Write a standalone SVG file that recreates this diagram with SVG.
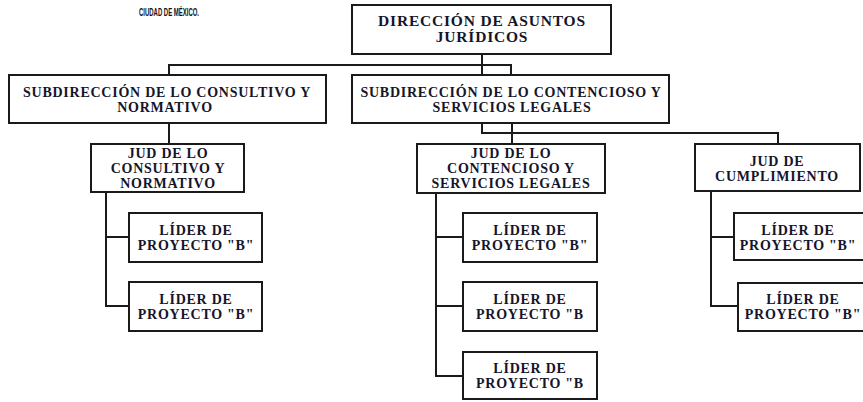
<svg xmlns="http://www.w3.org/2000/svg" width="863" height="402" viewBox="0 0 863 402">
<style>
.box{fill:#fff;stroke:#1a1a1a;stroke-width:2}
.t{font-family:"Liberation Serif","Times New Roman",serif;font-weight:bold;font-size:14px;letter-spacing:0.75px;fill:#15152a;text-anchor:middle}
.tt{font-size:15.5px;letter-spacing:0.8px}
.c{fill:none;stroke:#1a1a1a;stroke-width:2}
.small{font-family:"Liberation Sans",Arial,sans-serif;font-weight:bold;font-size:10px;fill:#111}
</style>
<rect width="863" height="402" fill="#fff"/>
<text class="small" x="139" y="15.5" textLength="60" lengthAdjust="spacingAndGlyphs">CIUDAD DE MÉXICO.</text>
<g id="connectors">
<path class="c" d="M482,54 V75 M169,75 V65 H511 V75"/>
<path class="c" d="M169,123 V144"/>
<path class="c" d="M482,123 V133 H778 V144 M512,123 V144"/>
<path class="c" d="M106,192 V306 H129 M106,237 H129"/>
<path class="c" d="M436,193 V376 H463 M436,237 H463 M436,306 H463"/>
<path class="c" d="M711,191 V306 H738 M711,237 H734"/>
</g>
<g id="dir"><rect class="box" x="352" y="5" width="259" height="49"/><text class="t tt" x="482" y="25.5">DIRECCIÓN DE ASUNTOS</text><text class="t tt" x="482" y="42">JURÍDICOS</text></g>
<g id="sub1"><rect class="box" x="9" y="75" width="317" height="48"/><text class="t" x="167" y="96.5">SUBDIRECCIÓN DE LO CONSULTIVO Y</text><text class="t" x="165" y="111.5">NORMATIVO</text></g>
<g id="sub2"><rect class="box" x="352" y="75" width="317" height="48"/><text class="t" x="511" y="96.5">SUBDIRECCIÓN DE LO CONTENCIOSO Y</text><text class="t" x="512" y="111.5">SERVICIOS LEGALES</text></g>
<g id="jud1"><rect class="box" x="91" y="144" width="153" height="48"/><text class="t" x="168" y="157.5">JUD DE LO</text><text class="t" x="168" y="172.5">CONSULTIVO Y</text><text class="t" x="168" y="187.5">NORMATIVO</text></g>
<g id="jud2"><rect class="box" x="417" y="144" width="188" height="49"/><text class="t" x="511" y="157.5">JUD DE LO</text><text class="t" x="511" y="172.5">CONTENCIOSO Y</text><text class="t" x="511" y="187.5">SERVICIOS LEGALES</text></g>
<g id="jud3"><rect class="box" x="695" y="144" width="165" height="47"/><text class="t" x="777" y="166">JUD DE</text><text class="t" x="777" y="181">CUMPLIMIENTO</text></g>
<g id="l1"><rect class="box" x="129" y="213" width="133" height="49"/><text class="t" x="196" y="234.5">LÍDER DE</text><text class="t" x="196" y="249.5">PROYECTO "B"</text></g>
<g id="l2"><rect class="box" x="129" y="282" width="133" height="49"/><text class="t" x="196" y="303.5">LÍDER DE</text><text class="t" x="196" y="318.5">PROYECTO "B"</text></g>
<g id="l3"><rect class="box" x="463" y="213" width="134" height="49"/><text class="t" x="530" y="234.5">LÍDER DE</text><text class="t" x="530" y="249.5">PROYECTO "B"</text></g>
<g id="l4"><rect class="box" x="463" y="282" width="134" height="49"/><text class="t" x="530" y="303.5">LÍDER DE</text><text class="t" x="530" y="318.5">PROYECTO "B</text></g>
<g id="l5"><rect class="box" x="463" y="352" width="134" height="47"/><text class="t" x="530" y="372.5">LÍDER DE</text><text class="t" x="530" y="387.5">PROYECTO "B</text></g>
<g id="l6"><rect class="box" x="734" y="213" width="132" height="47"/><text class="t" x="798" y="234.5">LÍDER DE</text><text class="t" x="798" y="249.5">PROYECTO "B"</text></g>
<g id="l7"><rect class="box" x="738" y="283" width="132" height="48"/><text class="t" x="803" y="303.5">LÍDER DE</text><text class="t" x="803" y="318.5">PROYECTO "B"</text></g>
</svg>
